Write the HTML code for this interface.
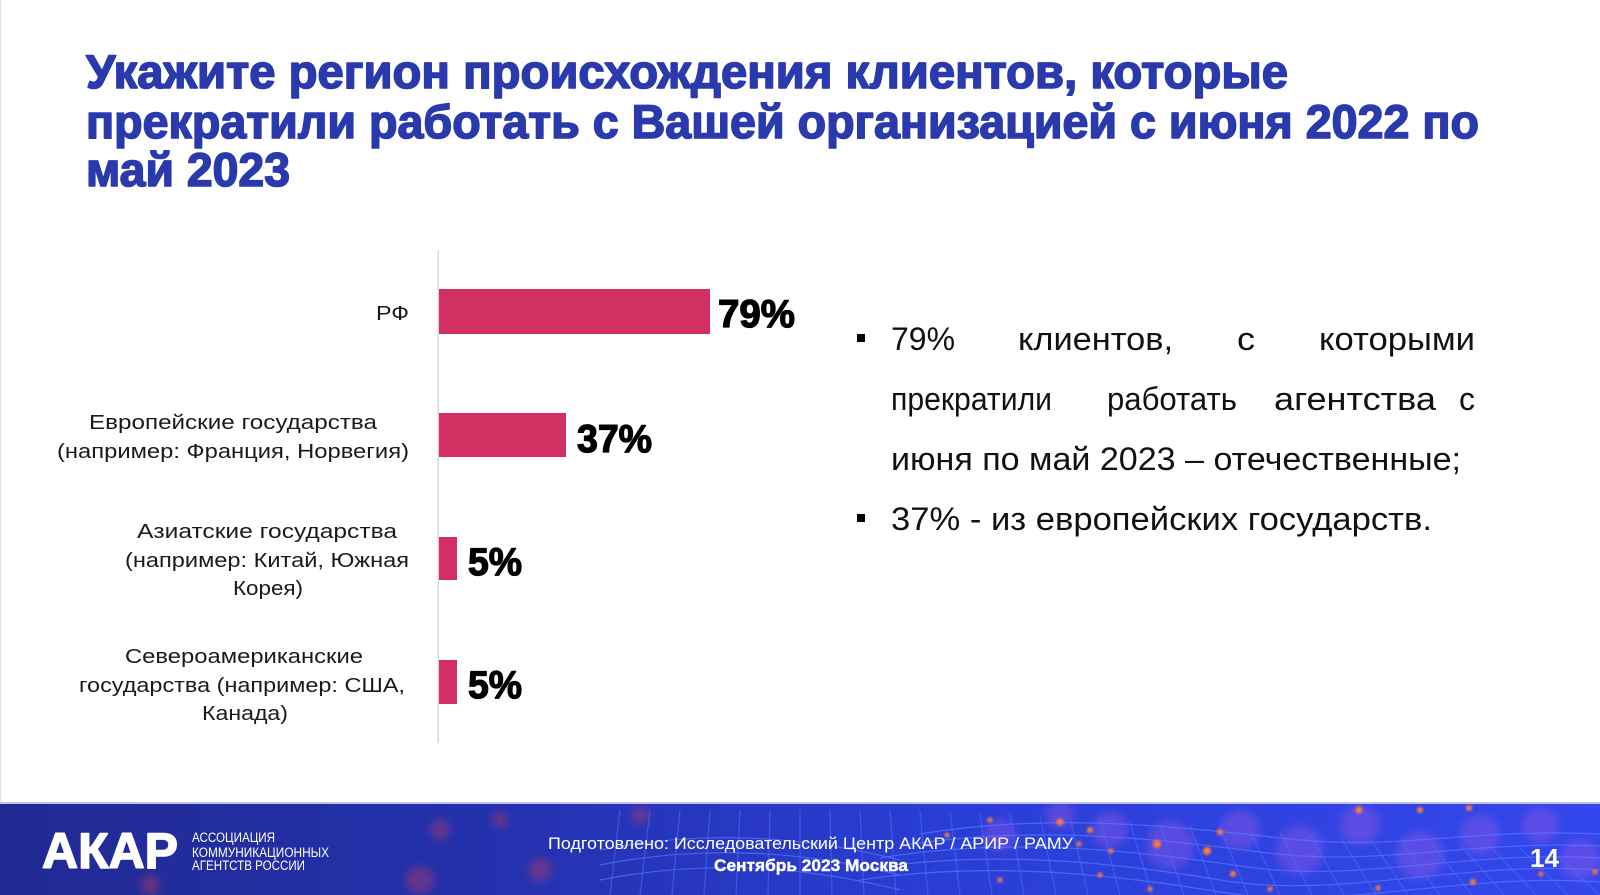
<!DOCTYPE html>
<html><head><meta charset="utf-8"><style>
html,body{margin:0;padding:0;background:#fff;}
svg{display:block;}
</style></head><body>
<svg width="1600" height="895" viewBox="0 0 1600 895" xmlns="http://www.w3.org/2000/svg">
<defs>
<linearGradient id="fg" x1="0" y1="0" x2="1" y2="0">
<stop offset="0" stop-color="#212a92"/>
<stop offset="0.3" stop-color="#2431ad"/>
<stop offset="0.6" stop-color="#2a3ed6"/>
<stop offset="1" stop-color="#3447ec"/>
</linearGradient>
<filter id="bl" x="-50%" y="-50%" width="200%" height="200%"><feGaussianBlur stdDeviation="4"/></filter>
<filter id="bl2" x="-50%" y="-50%" width="200%" height="200%"><feGaussianBlur stdDeviation="1.2"/></filter>
<clipPath id="fc"><rect x="0" y="803" width="1600" height="92"/></clipPath>
</defs>
<rect x="0" y="0" width="1600" height="895" fill="#fff"/>
<rect x="0" y="0" width="1" height="803" fill="#e2e2e2"/>

<!-- Title -->
<g font-family="'Liberation Sans', sans-serif" font-weight="bold" font-size="47" fill="#2a3aad" stroke="#2a3aad" stroke-width="1.6" stroke-linejoin="round">
<text x="86" y="88" textLength="1202" lengthAdjust="spacingAndGlyphs">Укажите регион происхождения клиентов, которые</text>
<text x="86" y="138" textLength="1393" lengthAdjust="spacingAndGlyphs">прекратили работать с Вашей организацией с июня 2022 по</text>
<text x="86" y="186" textLength="204" lengthAdjust="spacingAndGlyphs">май 2023</text>
</g>

<!-- axis -->
<rect x="437.5" y="250" width="1.5" height="493" fill="#d9d9d9"/>

<!-- bars -->
<g fill="#d23062">
<rect x="439" y="289" width="271" height="45"/>
<rect x="439" y="413" width="127" height="44"/>
<rect x="439" y="537" width="18" height="43"/>
<rect x="439" y="660" width="18" height="44"/>
</g>

<!-- values -->
<g font-family="'Liberation Sans', sans-serif" font-weight="bold" font-size="39" fill="#000" stroke="#000" stroke-width="1.3" stroke-linejoin="round">
<text x="718" y="327" textLength="77" lengthAdjust="spacingAndGlyphs">79%</text>
<text x="577" y="452" textLength="75" lengthAdjust="spacingAndGlyphs">37%</text>
<text x="468" y="575" textLength="54" lengthAdjust="spacingAndGlyphs">5%</text>
<text x="468" y="698" textLength="54" lengthAdjust="spacingAndGlyphs">5%</text>
</g>

<!-- category labels -->
<g font-family="'Liberation Sans', sans-serif" font-size="20" fill="#1a1a1a">
<text x="376" y="320" textLength="33" lengthAdjust="spacingAndGlyphs">РФ</text>
<text x="89" y="429" textLength="288" lengthAdjust="spacingAndGlyphs">Европейские государства</text>
<text x="57" y="458" textLength="352" lengthAdjust="spacingAndGlyphs">(например: Франция, Норвегия)</text>
<text x="137" y="538" textLength="260" lengthAdjust="spacingAndGlyphs">Азиатские государства</text>
<text x="125" y="567" textLength="284" lengthAdjust="spacingAndGlyphs">(например: Китай, Южная</text>
<text x="233" y="595" textLength="70" lengthAdjust="spacingAndGlyphs">Корея)</text>
<text x="125" y="663" textLength="238" lengthAdjust="spacingAndGlyphs">Североамериканские</text>
<text x="79" y="692" textLength="326" lengthAdjust="spacingAndGlyphs">государства (например: США,</text>
<text x="202" y="720" textLength="86" lengthAdjust="spacingAndGlyphs">Канада)</text>
</g>

<!-- bullets -->
<g fill="#000">
<rect x="857" y="334" width="8" height="8"/>
<rect x="857" y="514" width="8" height="8"/>
</g>
<g font-family="'Liberation Sans', sans-serif" font-size="32" fill="#111">
<text x="891" y="350" textLength="64" lengthAdjust="spacingAndGlyphs">79%</text>
<text x="1018" y="350" textLength="155" lengthAdjust="spacingAndGlyphs">клиентов,</text>
<text x="1237" y="350" textLength="18" lengthAdjust="spacingAndGlyphs">с</text>
<text x="1319" y="350" textLength="156" lengthAdjust="spacingAndGlyphs">которыми</text>
<text x="891" y="410" textLength="161" lengthAdjust="spacingAndGlyphs">прекратили</text>
<text x="1107" y="410" textLength="130" lengthAdjust="spacingAndGlyphs">работать</text>
<text x="1274" y="410" textLength="162" lengthAdjust="spacingAndGlyphs">агентства</text>
<text x="1459" y="410" textLength="16" lengthAdjust="spacingAndGlyphs">с</text>
<text x="891" y="470" textLength="570" lengthAdjust="spacingAndGlyphs">июня по май 2023 – отечественные;</text>
<text x="891" y="530" textLength="541" lengthAdjust="spacingAndGlyphs">37% - из европейских государств.</text>
</g>

<!-- footer -->
<g clip-path="url(#fc)">
<rect x="0" y="803" width="1600" height="92" fill="url(#fg)"/>
<g fill="#9a58e6" opacity="0.4" filter="url(#bl)">
<circle cx="1110" cy="830" r="18"/>
<circle cx="1170" cy="845" r="24"/>
<circle cx="1240" cy="830" r="20"/>
<circle cx="1300" cy="850" r="24"/>
<circle cx="1360" cy="825" r="20"/>
<circle cx="1420" cy="855" r="24"/>
<circle cx="1480" cy="835" r="20"/>
<circle cx="1540" cy="825" r="18"/>
<circle cx="1580" cy="860" r="20"/>
<circle cx="1000" cy="835" r="16"/>
<circle cx="1060" cy="815" r="14"/>
</g>
<g fill="#b03a6a" opacity="0.45" filter="url(#bl)">
<circle cx="440" cy="830" r="10"/>
<circle cx="420" cy="880" r="14"/>
<circle cx="540" cy="870" r="12"/>
<circle cx="640" cy="815" r="9"/>
<circle cx="150" cy="885" r="10"/>
<circle cx="500" cy="820" r="8"/>
</g>
<g stroke="#5b7dff" stroke-width="1.2" fill="none" opacity="0.65">
<path d="M860 870 C 980 850, 1100 860, 1220 880 S 1460 860, 1600 870"/>
<path d="M860 880 C 980 862, 1100 872, 1220 892 S 1460 872, 1600 882"/>
<path d="M880 858 C 1000 838, 1120 848, 1240 866 S 1460 850, 1600 858"/>
<path d="M900 846 C 1020 826, 1140 836, 1260 852 S 1460 840, 1600 846"/>
<path d="M920 834 C 1040 814, 1160 824, 1280 838 S 1460 828, 1600 834"/>
<path d="M600 850 C 700 830, 800 835, 900 860"/>
<path d="M600 865 C 700 845, 800 850, 900 875"/>
<path d="M600 880 C 700 860, 800 865, 900 890"/>
</g>
<g stroke="#4a6cff" stroke-width="1.2" opacity="0.6">
<path d="M620 810 L610 895 M650 810 L640 895 M680 810 L672 895 M710 810 L704 895 M740 810 L736 895 M770 810 L768 895 M800 810 L800 895 M830 810 L832 895 M860 810 L864 895 M890 810 L896 895 M920 812 L928 895 M950 812 L960 895 M980 814 L992 895 M1010 814 L1024 895 M1040 816 L1056 895 M1070 818 L1088 895 M1100 820 L1120 895 M1130 822 L1152 895 M1160 824 L1184 895 M1190 826 L1216 895 M1220 828 L1248 895 M1250 830 L1280 895 M1280 832 L1312 895 M1310 834 L1344 895 M1340 836 L1376 895 M1370 838 L1408 895 M1400 840 L1440 895 M1430 842 L1472 895 M1460 844 L1504 895 M1490 846 L1536 895 M1520 848 L1568 895 M1550 850 L1600 895"/>
</g>
<g fill="#ff7a3c" filter="url(#bl2)">
<circle cx="1060" cy="822" r="3.5"/>
<circle cx="1090" cy="830" r="3"/>
<circle cx="1079" cy="844" r="2.5"/>
<circle cx="1111" cy="851" r="2.5"/>
<circle cx="1157" cy="844" r="4"/>
<circle cx="1207" cy="851" r="4"/>
<circle cx="1233" cy="874" r="3"/>
<circle cx="1100" cy="875" r="2.5"/>
<circle cx="1270" cy="889" r="2.5"/>
<circle cx="1220" cy="832" r="3"/>
<circle cx="1359" cy="810" r="3.5"/>
<circle cx="1420" cy="810" r="3"/>
<circle cx="1469" cy="808" r="3"/>
<circle cx="1473" cy="882" r="3"/>
<circle cx="1541" cy="874" r="2.5"/>
<circle cx="1595" cy="872" r="2.5"/>
<circle cx="947" cy="835" r="2.5"/>
<circle cx="990" cy="820" r="2.5"/>
<circle cx="1000" cy="880" r="2.5"/>
<circle cx="1150" cy="889" r="2.5"/>
<circle cx="1378" cy="888" r="2.5"/>
</g>
</g>
<rect x="0" y="802" width="1600" height="2" fill="#bfc3ea"/>

<g font-family="'Liberation Sans', sans-serif" fill="#fff">
<text x="42" y="868" font-size="50" font-weight="bold" stroke="#fff" stroke-width="1.5" stroke-linejoin="round" textLength="136" lengthAdjust="spacingAndGlyphs">АКАР</text>
<text x="192" y="842" font-size="13.5" textLength="83" lengthAdjust="spacingAndGlyphs">АССОЦИАЦИЯ</text>
<text x="192" y="857" font-size="13.5" textLength="137" lengthAdjust="spacingAndGlyphs">КОММУНИКАЦИОННЫХ</text>
<text x="192" y="870" font-size="13.5" textLength="113" lengthAdjust="spacingAndGlyphs">АГЕНТСТВ РОССИИ</text>
<text x="548" y="849" font-size="17" textLength="525" lengthAdjust="spacingAndGlyphs">Подготовлено: Исследовательский Центр АКАР / АРИР / РАМУ</text>
<text x="714" y="871" font-size="17" font-weight="bold" stroke="#fff" stroke-width="0.4" textLength="194" lengthAdjust="spacingAndGlyphs">Сентябрь 2023 Москва</text>
<text x="1530" y="867" font-size="26" font-weight="bold" textLength="29" lengthAdjust="spacingAndGlyphs">14</text>
</g>
</svg>
</body></html>
